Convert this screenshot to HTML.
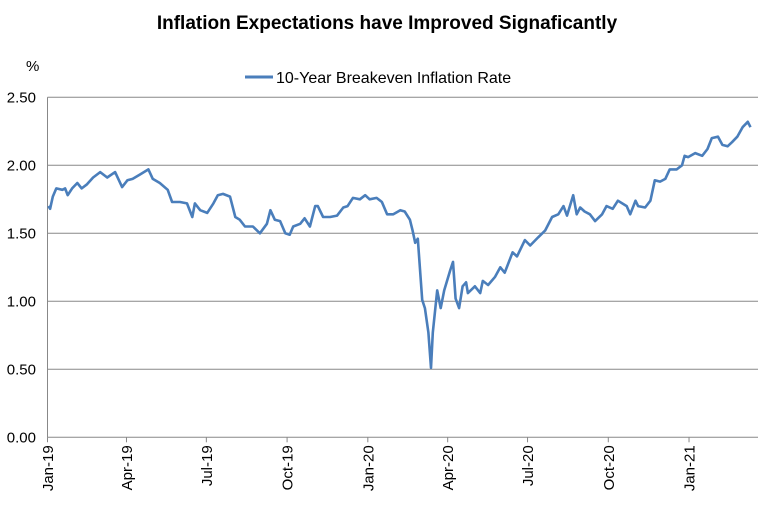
<!DOCTYPE html>
<html><head><meta charset="utf-8"><style>
body{margin:0;background:#fff;}
svg{display:block;font-family:"Liberation Sans",sans-serif;}
</style></head><body>
<svg id="chart" width="774" height="507">
<text x="387" y="29" text-anchor="middle" font-size="19" font-weight="bold">Inflation Expectations have Improved Signaficantly</text>
<text x="26" y="71" font-size="15">%</text>
<g>
<line x1="245" y1="77" x2="273" y2="77" stroke="#4a7ebb" stroke-width="3"/>
<text x="276" y="83" font-size="16">10-Year Breakeven Inflation Rate</text>
</g>
<g id="grid"></g><g id="yl"></g><g id="xl"></g><g id="series"></g>
</svg>
<script>
const yTicks=[0,0.5,1.0,1.5,2.0,2.5];
const yTickLabels=["0.00","0.50","1.00","1.50","2.00","2.50"];
const xTickDays=[0,90,181,273,365,456,547,639,731];
const xTickLabels=["Jan-19","Apr-19","Jul-19","Oct-19","Jan-20","Apr-20","Jul-20","Oct-20","Jan-21"];
const days=[1,3,6,10,17,20,23,28,34,39,45,52,60,68,77,85,91,97,105,115,120,128,137,142,151,159,165,168,174,182,189,194,200,208,214,219,225,234,242,250,254,259,265,271,276,280,288,293,299,305,308,314,322,330,337,342,348,356,362,367,375,381,387,394,402,407,413,416,419,422,427,430,434,437,439,444,448,452,459,462,465,469,473,477,479,487,493,496,502,510,516,521,530,535,544,550,559,567,575,582,588,592,599,603,607,612,618,624,632,637,644,650,660,664,670,673,681,687,692,698,704,709,717,723,726,730,738,746,752,757,764,769,775,780,786,792,798,801];
const rates=[1.70,1.68,1.77,1.83,1.82,1.83,1.78,1.83,1.87,1.83,1.86,1.91,1.95,1.91,1.95,1.84,1.89,1.90,1.93,1.97,1.90,1.87,1.82,1.73,1.73,1.72,1.62,1.72,1.67,1.65,1.72,1.78,1.79,1.77,1.62,1.60,1.55,1.55,1.50,1.57,1.67,1.60,1.59,1.50,1.49,1.55,1.57,1.61,1.55,1.70,1.70,1.62,1.62,1.63,1.69,1.70,1.76,1.75,1.78,1.75,1.76,1.73,1.64,1.64,1.67,1.66,1.60,1.52,1.43,1.46,1.01,0.95,0.77,0.51,0.77,1.08,0.95,1.08,1.23,1.29,1.02,0.95,1.11,1.14,1.06,1.11,1.06,1.15,1.12,1.18,1.25,1.21,1.36,1.33,1.45,1.41,1.47,1.52,1.62,1.64,1.70,1.63,1.78,1.64,1.69,1.66,1.64,1.59,1.64,1.70,1.68,1.74,1.70,1.64,1.74,1.70,1.69,1.74,1.89,1.88,1.90,1.97,1.97,2.00,2.07,2.06,2.09,2.07,2.12,2.20,2.21,2.15,2.14,2.17,2.21,2.28,2.32,2.28];
const NS="http://www.w3.org/2000/svg";
const x0=47.5,pxPerDay=0.8776,yBase=437.3,pxPerUnit=136,xRight=758;
function xs(d){return x0+d*pxPerDay;}
function ys(v){return yBase-v*pxPerUnit;}
const grid=document.getElementById('grid'),yl=document.getElementById('yl'),xl=document.getElementById('xl'),ser=document.getElementById('series');
yTicks.forEach((v,i)=>{
 const l=document.createElementNS(NS,'line');
 l.setAttribute('x1',x0);l.setAttribute('x2',xRight);l.setAttribute('y1',ys(v));l.setAttribute('y2',ys(v));
 l.setAttribute('stroke','#888');l.setAttribute('stroke-width','1');
 
 
 grid.appendChild(l);
 const t=document.createElementNS(NS,'text');
 t.setAttribute('x',36);t.setAttribute('y',ys(v)+5);t.setAttribute('text-anchor','end');t.setAttribute('font-size','15');
 t.textContent=yTickLabels[i];
 
 
 yl.appendChild(t);
});
const ax=document.createElementNS(NS,'line');
ax.setAttribute('x1',x0);ax.setAttribute('x2',x0);ax.setAttribute('y1',ys(2.5));ax.setAttribute('y2',yBase);
ax.setAttribute('stroke','#888');


grid.appendChild(ax);
xTickDays.forEach((d,i)=>{
 const x=xs(d);
 const tk=document.createElementNS(NS,'line');
 tk.setAttribute('x1',x);tk.setAttribute('x2',x);tk.setAttribute('y1',yBase);tk.setAttribute('y2',yBase+5);tk.setAttribute('stroke','#888');
 
 
 grid.appendChild(tk);
 const t=document.createElementNS(NS,'text');
 t.setAttribute('transform','translate('+(x+5.5)+','+(yBase+8)+') rotate(-90)');
 t.setAttribute('text-anchor','end');t.setAttribute('font-size','15');
 t.textContent=xTickLabels[i];
 
 
 xl.appendChild(t);
});
const p=document.createElementNS(NS,'polyline');
p.setAttribute('points',days.map((d,i)=>xs(d).toFixed(1)+','+ys(rates[i]).toFixed(1)).join(' '));
p.setAttribute('fill','none');p.setAttribute('stroke','#4a7ebb');p.setAttribute('stroke-width','2.6');p.setAttribute('stroke-linejoin','round');


ser.appendChild(p);
</script>
</body></html>
